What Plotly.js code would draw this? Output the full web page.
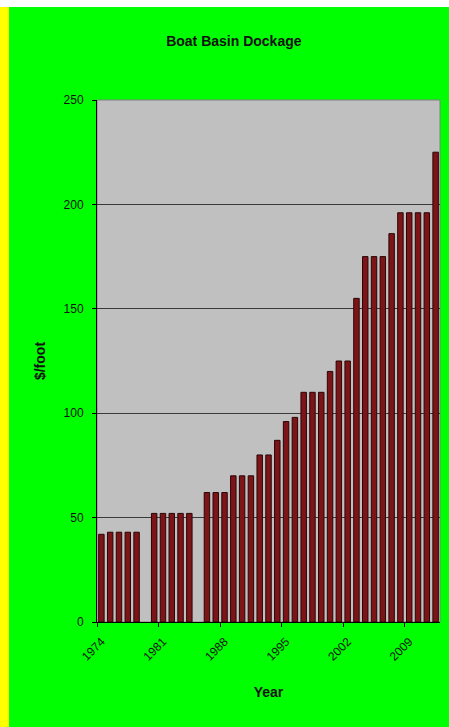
<!DOCTYPE html>
<html>
<head>
<meta charset="utf-8">
<script src="https://cdn.plot.ly/plotly-3.0.1.min.js"></script>
<style>
  html, body { margin: 0; padding: 0; background: #ffffff; width: 449px; height: 727px; overflow: hidden; }
  #yellow { position: absolute; left: 0; top: 7px; width: 9px; height: 720px; background: #ffff00; }
  #chart { position: absolute; left: 9px; top: 7px; width: 440px; height: 720px; }
</style>
</head>
<body>
<div id="yellow"></div>
<div id="chart"></div>
<script>
const years = [1974, 1975, 1976, 1977, 1978,
               1980, 1981, 1982, 1983, 1984,
               1986, 1987, 1988, 1989, 1990, 1991, 1992, 1993, 1994, 1995,
               1996, 1997, 1998, 1999, 2000, 2001, 2002, 2003, 2004, 2005,
               2006, 2007, 2008, 2009, 2010, 2011, 2012];
const dockage = [42, 43, 43, 43, 43,
                 52, 52, 52, 52, 52,
                 62, 62, 62, 70, 70, 70, 80, 80, 87, 96,
                 98, 110, 110, 110, 120, 125, 125, 155, 175, 175,
                 175, 186, 196, 196, 196, 196, 225];
const tickYears = [1974, 1981, 1988, 1995, 2002, 2009];
const tickLabels = ["1974", "1981", "1988", "1995", "2002", "2009"];

const font = {family: "Liberation Sans, Arial, sans-serif", color: "#111111"};

const trace = {
  type: "bar",
  x: years,
  y: dockage,
  width: 0.62,
  marker: {color: "#7d1518", line: {color: "#2a0505", width: 1}},
  hoverinfo: "x+y"
};

const layout = {
  width: 440,
  height: 720,
  margin: {l: 88, r: 9, t: 93, b: 105},
  paper_bgcolor: "#00ff00",
  plot_bgcolor: "#c0c0c0",
  showlegend: false,
  title: {
    text: "<b>Boat Basin Dockage</b>",
    font: Object.assign({}, font, {size: 14}),
    xref: "container", x: 0.511, xanchor: "center",
    yref: "container", y: 1 - 34 / 720, yanchor: "middle"
  },
  xaxis: {
    range: [1973.5, 2012.5],
    tickmode: "array",
    tickvals: tickYears,
    ticktext: tickLabels,
    tickangle: -45,
    ticks: "",
    ticklabelstandoff: 7,
    tickfont: Object.assign({}, font, {size: 12}),
    showgrid: false,
    zeroline: false,
    showline: true,
    linecolor: "#000000",
    linewidth: 1,
    minor: {ticks: "outside", tick0: 1973.5, dtick: 7, ticklen: 4, tickcolor: "#000000", showgrid: false},
    automargin: false,
    title: {text: "<b>Year</b>", font: Object.assign({}, font, {size: 14}), standoff: 24}
  },
  yaxis: {
    range: [0, 250],
    tickmode: "linear",
    tick0: 0,
    dtick: 50,
    ticks: "outside",
    ticklen: 4,
    tickcolor: "#000000",
    ticklabelstandoff: 6,
    tickfont: Object.assign({}, font, {size: 12}),
    showgrid: true,
    gridcolor: "#3a3a3a",
    gridwidth: 1,
    zeroline: false,
    showline: true,
    linecolor: "#000000",
    linewidth: 1,
    mirror: false,
    automargin: false,
    title: {text: "<b>$/foot</b>", font: Object.assign({}, font, {size: 14}), standoff: 14}
  },
  shapes: [
    {type: "rect", xref: "paper", yref: "paper", x0: 0, x1: 1, y0: 0, y1: 1,
     line: {color: "#808080", width: 1}, fillcolor: "rgba(0,0,0,0)", layer: "below"}
  ]
};

Plotly.newPlot("chart", [trace], layout, {displayModeBar: false, staticPlot: true});
</script>
</body>
</html>
